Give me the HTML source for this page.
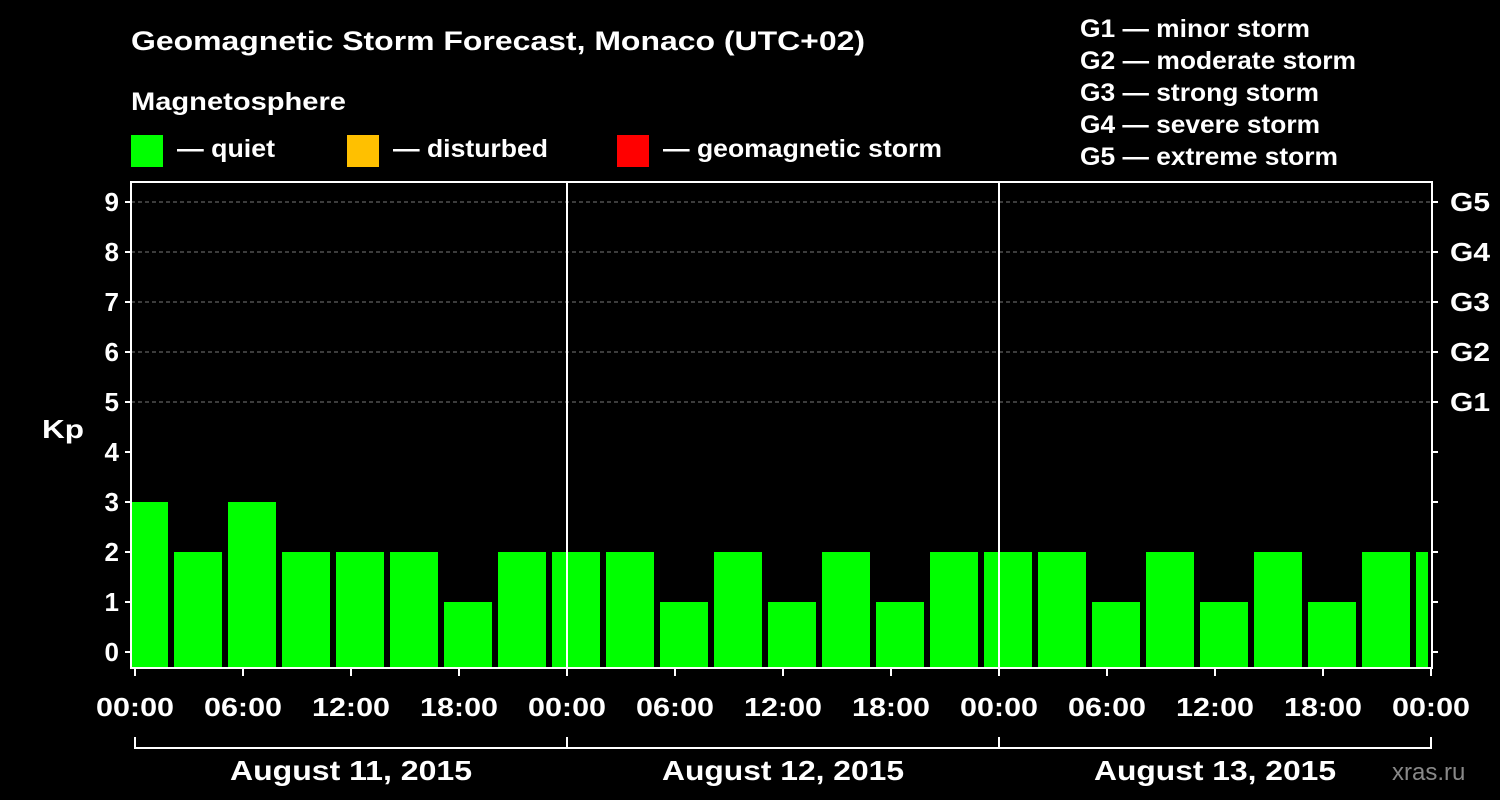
<!DOCTYPE html>
<html><head><meta charset="utf-8"><style>
html,body{margin:0;padding:0;background:#000;}
svg{display:block;font-family:"Liberation Sans",Arial,sans-serif;font-weight:bold;}
</style></head><body>
<svg width="1500" height="800" viewBox="0 0 1500 800">
<rect width="1500" height="800" fill="#000"/>
<text x="131" y="50" fill="#fff" font-size="27" textLength="734" lengthAdjust="spacingAndGlyphs">Geomagnetic Storm Forecast, Monaco (UTC+02)</text>
<text x="131" y="110" fill="#fff" font-size="25" textLength="215" lengthAdjust="spacingAndGlyphs">Magnetosphere</text>
<g><rect x="131" y="135" width="32" height="32" fill="#00ff00"/><text x="177" y="157" fill="#fff" font-size="25" textLength="98" lengthAdjust="spacingAndGlyphs">— quiet</text></g>
<g><rect x="347" y="135" width="32" height="32" fill="#ffc000"/><text x="393" y="157" fill="#fff" font-size="25" textLength="155" lengthAdjust="spacingAndGlyphs">— disturbed</text></g>
<g><rect x="617" y="135" width="32" height="32" fill="#ff0000"/><text x="663" y="157" fill="#fff" font-size="25" textLength="279" lengthAdjust="spacingAndGlyphs">— geomagnetic storm</text></g>
<g fill="#fff" font-size="25">
<text x="1080" y="37" textLength="230" lengthAdjust="spacingAndGlyphs">G1 — minor storm</text>
<text x="1080" y="69" textLength="276" lengthAdjust="spacingAndGlyphs">G2 — moderate storm</text>
<text x="1080" y="101" textLength="239" lengthAdjust="spacingAndGlyphs">G3 — strong storm</text>
<text x="1080" y="133" textLength="240" lengthAdjust="spacingAndGlyphs">G4 — severe storm</text>
<text x="1080" y="165" textLength="258" lengthAdjust="spacingAndGlyphs">G5 — extreme storm</text>
</g>
<text x="42" y="438" fill="#fff" font-size="26" textLength="42" lengthAdjust="spacingAndGlyphs">Kp</text>
<text x="1392" y="780" fill="#888" font-size="24" font-weight="normal">xras.ru</text>
<defs><clipPath id="pc"><rect x="132" y="182" width="1296" height="486"/></clipPath></defs>
<g id="grid"></g>
<g id="bars" clip-path="url(#pc)"></g>
<g id="axes"></g>
</svg>
<script>
const kpValues=[3,2,3,2,2,2,1,2,2,2,1,2,1,2,1,2,2,2,1,2,1,2,1,2,2];
const yTicks=[0,1,2,3,4,5,6,7,8,9];
const gLabels=["G1","G2","G3","G4","G5"];
const gLevels=[5,6,7,8,9];
const xTickLabels=["00:00","06:00","12:00","18:00","00:00","06:00","12:00","18:00","00:00","06:00","12:00","18:00","00:00"];
const dayLabels=["August 11, 2015","August 12, 2015","August 13, 2015"];
const NS="http://www.w3.org/2000/svg";
const x0=135, pxPerHour=18, y0=652, pxPerKp=50, plotLeft=131, plotRight=1432, plotTop=182, plotBottom=668;
const X=h=>x0+h*pxPerHour, Y=v=>y0-v*pxPerKp;
function mk(t,a,p){const e=document.createElementNS(NS,t);for(const k in a)e.setAttribute(k,a[k]);p.appendChild(e);return e;}
const grid=document.getElementById('grid'),bars=document.getElementById('bars'),axes=document.getElementById('axes');
gLevels.forEach(v=>{const l=mk('line',{x1:plotLeft,x2:plotRight,y1:Y(v),y2:Y(v),stroke:'#777','stroke-dasharray':'4,3','stroke-width':1},grid);

});
kpValues.forEach((v,i)=>{const c=X(0.5+3*i);const col=v>=5?'#ff0000':(v>=4?'#ffc000':'#00ff00');
const r=mk('rect',{x:c-24,y:Y(v),width:48,height:plotBottom-Y(v),fill:col},bars);

});
[24,48].forEach(h=>{const l=mk('line',{x1:X(h),x2:X(h),y1:plotTop,y2:plotBottom,stroke:'#fff','stroke-width':2},axes);

});
const fr=mk('rect',{x:plotLeft,y:plotTop,width:plotRight-plotLeft,height:plotBottom-plotTop,fill:'none',stroke:'#fff','stroke-width':2},axes);


yTicks.forEach(v=>{mk('line',{x1:plotLeft-6,x2:plotLeft,y1:Y(v),y2:Y(v),stroke:'#fff','stroke-width':2},axes);
mk('line',{x1:plotRight,x2:plotRight+6,y1:Y(v),y2:Y(v),stroke:'#fff','stroke-width':2},axes);
const t=mk('text',{x:plotLeft-12,y:Y(v)+9,fill:'#fff','font-size':26,'text-anchor':'end'},axes);t.textContent=v;

});
gLevels.forEach((v,i)=>{const t=mk('text',{x:plotRight+18,y:Y(v)+9,fill:'#fff','font-size':26,textLength:40,lengthAdjust:'spacingAndGlyphs'},axes);t.textContent=gLabels[i];

});
xTickLabels.forEach((s,i)=>{const x=X(i*6);mk('line',{x1:x,x2:x,y1:plotBottom,y2:plotBottom+8,stroke:'#fff','stroke-width':2},axes);
const t=mk('text',{x:x-39,y:716,fill:'#fff','font-size':26,textLength:78,lengthAdjust:'spacingAndGlyphs'},axes);t.textContent=s;

});
const bl=mk('path',{d:`M${X(0)} 737V748H${X(72)}V737M${X(24)} 737V748M${X(48)} 737V748`,fill:'none',stroke:'#fff','stroke-width':2},axes);


dayLabels.forEach((s,i)=>{const t=mk('text',{x:X(12+24*i)-121,y:780,fill:'#fff','font-size':28,textLength:242,lengthAdjust:'spacingAndGlyphs'},axes);t.textContent=s;

});
</script>
</body></html>
